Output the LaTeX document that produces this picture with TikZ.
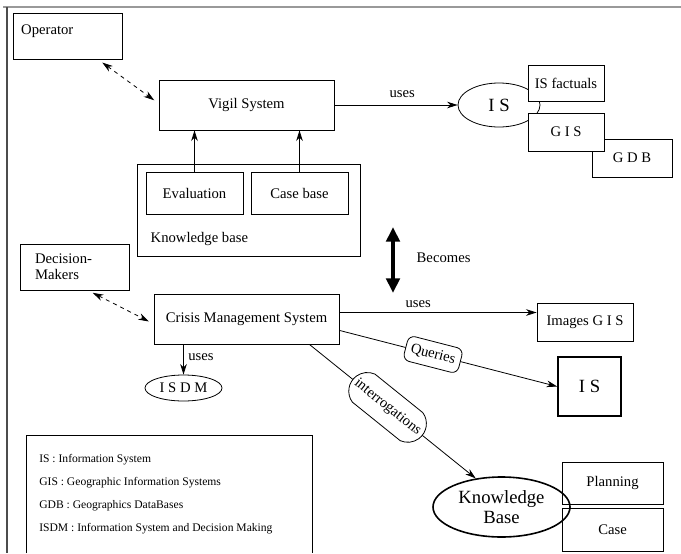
\documentclass[tikz,border=0pt]{standalone}
\usepackage{fontspec}
\setmainfont{Liberation Serif}
\usepackage{tikz}
\usetikzlibrary{arrows.meta, positioning, calc, shapes.geometric, shapes.misc}

\begin{document}
\begin{tikzpicture}[x=0.75pt, y=-0.75pt,
    font=\fontsize{11}{12}\selectfont,
    box/.style={draw, line width=0.6pt, fill=white},
    oval/.style={draw, ellipse, line width=0.6pt, inner sep=0pt},
    big/.style={font=\fontsize{14}{15}\selectfont},
    arr/.style={-{Stealth[length=8pt, width=5pt]}, line width=0.6pt},
    dasharr/.style={{Stealth[length=8pt, width=5pt]}-{Stealth[length=8pt, width=5pt]}, dashed, line width=0.6pt, shorten <=4pt, shorten >=4pt},
    querybox/.style={draw, fill=white, rounded corners=5pt, sloped, inner xsep=4pt, inner ysep=5pt, line width=0.6pt},
    intbox/.style={draw, fill=white, rounded rectangle, rounded rectangle arc length=150, sloped, minimum height=27pt, inner xsep=2pt, line width=0.6pt}]
\useasboundingbox (0,0) rectangle (681,553);

% frame
\draw[gray!80, line width=1.2pt] (3,7) -- (681,7);
\draw[gray!60!black, line width=1.2pt] (7,7) -- (7,553);

% vigil part
\node[box, minimum width=82pt, minimum height=34.5pt,
      label={[anchor=north west, inner sep=0pt, xshift=6pt, yshift=-9pt]north west:Operator}] (op) at (68,36) {};
\node[box, minimum width=131.25pt, minimum height=37.5pt] (vigil) at (246.5,105) {Vigil System};
\draw[dasharr] (op.-38) -- (vigil.179);

\node[box, minimum width=167.25pt, minimum height=69pt] (kbase) at (248.5,210) {};
\node[anchor=west] (kbtext) at (146,239) {Knowledge base};
\node[box, minimum width=72.75pt, minimum height=31.5pt] (eval) at (194.5,193) {Evaluation};
\node[box, minimum width=72.75pt, minimum height=31.5pt] (casebase) at (299.5,193) {Case base};
\draw[arr] (eval.north) -- (eval.north |- vigil.south);
\draw[arr] (casebase.north) -- (casebase.north |- vigil.south);

\node[oval, minimum width=61.5pt, minimum height=33pt, big] (ise) at (499,105) {I S};
\node[box, minimum width=57pt, minimum height=27pt] (isfact) at (566,83) {IS factuals};
\node[box, minimum width=60pt, minimum height=28.5pt] (gdb) at (632,158) {G D B};
\node[box, minimum width=57pt, minimum height=28.5pt] (gis) at (566,132) {G I S};
\draw[arr] (vigil) -- node[above=2pt, pos=0.55] (uses1) {uses} (ise);

% becomes
\coordinate (bectop) at (393,227);
\coordinate (becbot) at (393,293);
\draw[line width=3pt, {Triangle[length=11pt, width=10pt]}-{Triangle[length=11pt, width=10pt]}] (bectop) -- (becbot);
\node[anchor=west] (becomes) at (412,258) {Becomes};

% crisis part
\node[box, align=left, text width=59.25pt, inner xsep=11.25pt, minimum width=81.75pt, minimum height=34.5pt] (dm) at (74.5,267) {Decision-\\Makers};
\node[box, minimum width=138.75pt, minimum height=37.5pt] (cms) at (246.5,319) {Crisis Management System};
\draw[dasharr] (dm.-60) -- (cms.183);

\node[oval, minimum width=57.75pt, minimum height=19.5pt] (isdm) at (183.5,388) {I S D M};
\draw[arr] (isdm |- cms.south) -- node[right, pos=0.42] (uses3) {uses} (isdm);

\node[box, minimum width=72pt, minimum height=28.5pt] (imgis) at (585,322) {Images G I S};
\draw[arr] (cms.4) -- node[above, pos=0.4] (uses2) {uses} (cms.4 -| imgis.west);

\node[box, line width=1.2pt, minimum width=47.25pt, minimum height=44.25pt, big] (isb) at (589.5,386.5) {I S};
\draw[arr] (cms.-7) -- node[querybox, pos=0.43] (queries) {Queries} (isb.west);

\node[box, minimum width=75.75pt, minimum height=31.5pt] (planning) at (612.5,483) {Planning};
\node[box, minimum width=75.75pt, minimum height=32.25pt] (case) at (612.5,529.5) {Case};
\node[oval, line width=1.2pt, minimum width=102.75pt, minimum height=45pt, align=center, big] (kb) at (501.5,507) {Knowledge\\Base};
\draw[arr] (cms.-22) -- node[intbox, pos=0.47] (interr) {interrogations} (kb.132);

% legend
\draw[line width=0.6pt] (26,553) -- (26,435) -- (312,435) -- (312,553);
\node[anchor=north west, align=left, inner sep=0pt, font=\fontsize{8.7}{17.2}\selectfont] (legend) at (39,454)
  {IS : Information System\\GIS : Geographic Information Systems\\GDB : Geographics DataBases\\ISDM : Information System and Decision Making};
\end{tikzpicture}
\end{document}
